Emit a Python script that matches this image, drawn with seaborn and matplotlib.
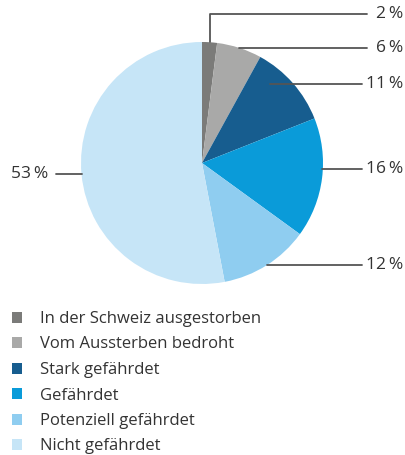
import numpy as np
import seaborn as sns
import matplotlib.pyplot as plt

# Anteile der Gefährdungskategorien (%)
kategorien = ['In der Schweiz ausgestorben', 'Vom Aussterben bedroht', 'Stark gefährdet',
              'Gefährdet', 'Potenziell gefährdet', 'Nicht gefährdet']
anteile = [2, 6, 11, 16, 12, 53]
beschriftung = ['2\u2009%', '6\u2009%', '11\u2009%', '16\u2009%', '12\u2009%', '53\u2009%']

farben = sns.color_palette(['#7b7b79', '#a9a9a8', '#175d8f', '#0a9bd9', '#8fcdf0', '#c6e5f7'])

sns.set_style("white")
plt.rcParams['font.family'] = ['Open Sans', 'DejaVu Sans']
textfarbe = '#333333'
linienfarbe = '#555555'

fig = plt.figure(figsize=(4.05, 4.55), dpi=100)
ax = fig.add_axes([0, 0, 1, 1])

# Pie in Pixelkoordinaten (y nach oben)
cx, cy, r = 202, 292, 121
wedges, _ = ax.pie(anteile, colors=farben, startangle=90, counterclock=False,
                   center=(cx, cy), radius=r, frame=False,
                   wedgeprops=dict(linewidth=0))
ax.set_xlim(0, 405)
ax.set_ylim(0, 455)
ax.set_aspect('equal')
ax.axis('off')

# Beschriftungen mit Führungslinien
gr = 12.5
for w, txt, lab in zip(wedges, beschriftung, kategorien):
    mitte = np.deg2rad((w.theta1 + w.theta2) / 2)
    px = cx + r * np.cos(mitte)
    py = cy + r * np.sin(mitte)
    if txt.startswith('53'):
        ax.plot([px, 56], [py, py], color=linienfarbe, lw=1.3)
        ax.text(48, py, txt, ha='right', va='center', fontsize=gr, color=textfarbe)
    elif txt.startswith('2'):
        ax.plot([px, px, 367], [py, 441, 441], color=linienfarbe, lw=1.3)
        ax.text(403, 441, txt, ha='right', va='center', fontsize=gr, color=textfarbe)
    else:
        if txt.startswith('11'):
            px, py = 270, 371
        if txt.startswith('16'):
            py = 286
        ende = 367 if txt.startswith('6') else 362
        ax.plot([px, ende], [py, py], color=linienfarbe, lw=1.3)
        ax.text(403, py, txt, ha='right', va='center', fontsize=gr, color=textfarbe)

leg = ax.legend(wedges, kategorien, loc='upper left', bbox_to_anchor=(12 / 405, 1 - 311 / 455),
                bbox_transform=fig.transFigure, frameon=False, fontsize=12,
                handlelength=0.62, handleheight=0.62, handletextpad=1.05,
                labelspacing=0.57, borderpad=0, borderaxespad=0)
for t in leg.get_texts():
    t.set_color(textfarbe)

plt.savefig('out.png', dpi=100)
